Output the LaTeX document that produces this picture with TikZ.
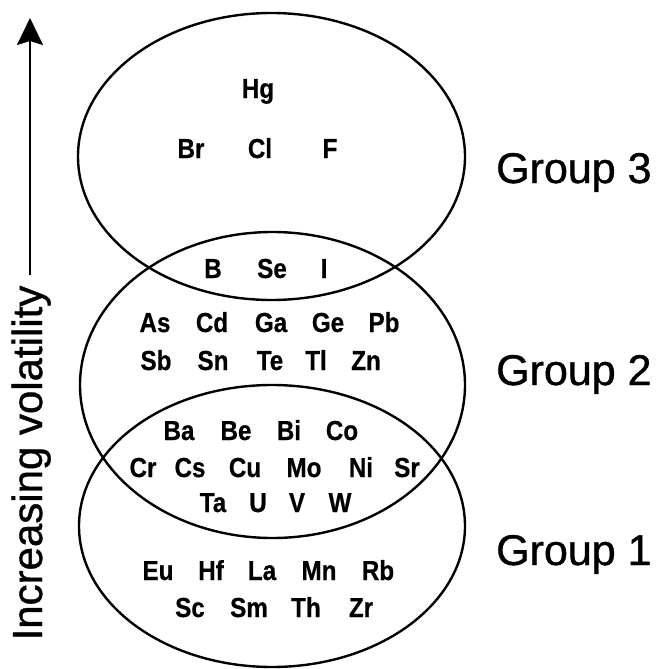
\documentclass[tikz,border=0pt]{standalone}
\usepackage{fontspec}
\setmainfont{Liberation Sans}
\newfontfamily\elfont[FakeStretch=0.88,FakeBold=0.6]{Liberation Sans Bold}
\newfontfamily\grpfont[FakeBold=0.9]{Liberation Sans}
\usetikzlibrary{arrows.meta}
\tikzset{
  el/.style={anchor=base, inner sep=0pt, font=\elfont\fontsize{27.5}{30}\selectfont},
  grp/.style={anchor=base west, inner sep=0pt, font=\grpfont\fontsize{43}{50}\selectfont},
  oval/.style={line width=2.4pt},
}
\begin{document}
\begin{tikzpicture}[x=1pt,y=-1pt]
\useasboundingbox (0,0) rectangle (657,669);
% ellipses
\draw[oval] (271.5,156.5) ellipse [x radius=193.5pt, y radius=143.5pt];
\draw[oval] (272.5,385) ellipse [x radius=192.5pt, y radius=153pt];
\draw[oval] (272,526) ellipse [x radius=193pt, y radius=141pt];
% arrow and axis label
\coordinate (arrS) at (30,275);
\coordinate (arrE) at (30,18);
\draw[line width=2.2pt, -{Stealth[length=27pt,width=26pt,inset=4pt]}] (arrS) -- (arrE);
\node[anchor=base, rotate=90, inner sep=0pt, font=\grpfont\fontsize{42}{50}\selectfont] (axis) at (42,463) {Increasing volatility};
% group labels
\node[grp] (g3) at (496,183) {Group 3};
\node[grp] (g2) at (496,385) {Group 2};
\node[grp] (g1) at (496,565) {Group 1};
% group 3 only
\node[el] (Hg) at (258,98) {Hg};
\node[el] (Br) at (191,158) {Br};
\node[el] (Cl) at (260,158) {Cl};
\node[el] (F) at (330,158) {F};
% groups 3 and 2
\node[el] (B) at (213,278) {B};
\node[el] (Se) at (272,278) {Se};
\node[el] (I) at (324,278) {I};
% group 2 only
\node[el] (As) at (155,332) {As};
\node[el] (Cd) at (212,332) {Cd};
\node[el] (Ga) at (271,332) {Ga};
\node[el] (Ge) at (328,332) {Ge};
\node[el] (Pb) at (384,332) {Pb};
\node[el] (Sb) at (156,370) {Sb};
\node[el] (Sn) at (213,370) {Sn};
\node[el] (Te) at (270,370) {Te};
\node[el] (Tl) at (316,370) {Tl};
\node[el] (Zn) at (366,370) {Zn};
% groups 2 and 1
\node[el] (Ba) at (179,440) {Ba};
\node[el] (Be) at (236,440) {Be};
\node[el] (Bi) at (289,440) {Bi};
\node[el] (Co) at (342,440) {Co};
\node[el] (Cr) at (143,477) {Cr};
\node[el] (Cs) at (190,477) {Cs};
\node[el] (Cu) at (245,477) {Cu};
\node[el] (Mo) at (304,477) {Mo};
\node[el] (Ni) at (361,477) {Ni};
\node[el] (Sr) at (407,477) {Sr};
\node[el] (Ta) at (213,512) {Ta};
\node[el] (U) at (258,512) {U};
\node[el] (V) at (297,512) {V};
\node[el] (W) at (340,512) {W};
% group 1 only
\node[el] (Eu) at (158,580) {Eu};
\node[el] (Hf) at (211,580) {Hf};
\node[el] (La) at (262,580) {La};
\node[el] (Mn) at (319,580) {Mn};
\node[el] (Rb) at (378,580) {Rb};
\node[el] (Sc) at (190,617) {Sc};
\node[el] (Sm) at (249,617) {Sm};
\node[el] (Th) at (306,617) {Th};
\node[el] (Zr) at (361,617) {Zr};
\end{tikzpicture}
\end{document}
